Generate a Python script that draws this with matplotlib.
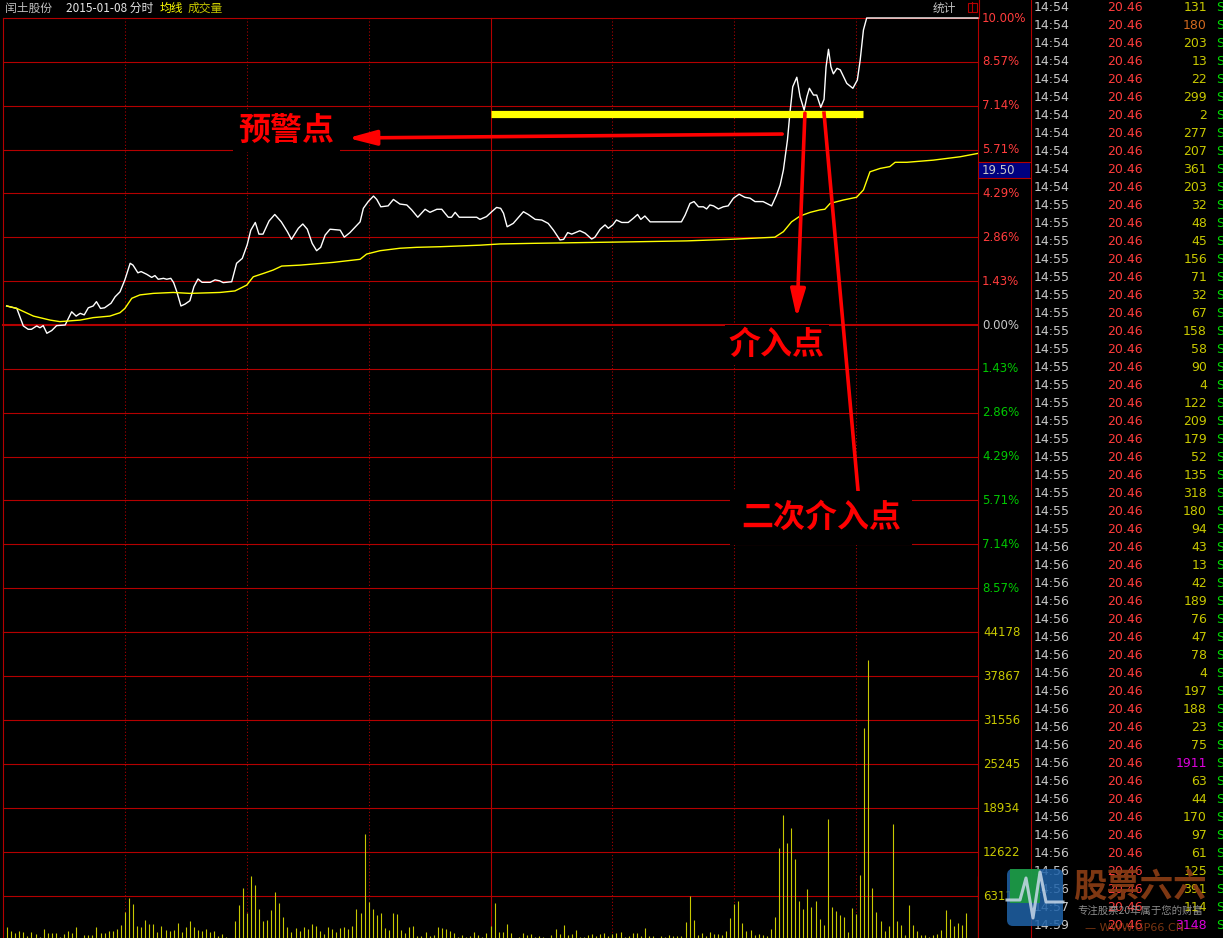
import matplotlib
matplotlib.use("Agg")
import matplotlib.pyplot as plt
from matplotlib.transforms import blended_transform_factory, Affine2D
from matplotlib.patches import Rectangle, FancyBboxPatch
from matplotlib.lines import Line2D

plt.rcParams['font.family'] = ['Noto Sans CJK SC', 'DejaVu Sans']

# ---- dane ----
stock_name = '闰土股份'
trade_date = '2015-01-08'
last_price_tag = '19.50'

# cena (minuta, % zmiany)
price_pts = [
    (0.9, 0.62), (3.4, 0.54), (5.0, -0.03), (6.2, -0.14), (7.0, -0.14), (8.3, -0.03),
    (9.1, -0.09), (9.9, -0.02), (10.8, -0.27), (12.0, -0.18), (13.2, -0.02), (15.3, 0.00),
    (16.9, 0.43), (18.0, 0.29), (19.0, 0.38), (20.0, 0.33), (21.0, 0.56), (22.2, 0.62),
    (23.0, 0.76), (24.0, 0.54), (25.0, 0.56), (26.6, 0.71), (27.6, 0.92), (28.8, 1.08),
    (30.0, 1.47), (31.3, 2.01), (32.0, 1.95), (33.2, 1.70), (34.0, 1.74), (35.4, 1.65),
    (36.6, 1.55), (37.4, 1.61), (38.2, 1.49), (39.5, 1.52), (40.3, 1.49), (41.3, 1.52),
    (42.0, 1.38), (42.8, 1.08), (43.8, 0.62), (44.8, 0.68), (46.0, 0.79), (47.0, 1.25),
    (48.0, 1.50), (49.0, 1.39), (51.0, 1.39), (52.2, 1.47), (53.3, 1.44), (54.2, 1.38),
    (56.3, 1.41), (57.5, 2.01), (58.9, 2.17), (60.1, 2.61), (61.0, 3.09), (62.1, 3.34),
    (63.0, 2.96), (64.0, 2.96), (65.5, 3.39), (66.9, 3.60), (68.5, 3.36), (70.0, 3.04),
    (71.0, 2.79), (72.7, 3.15), (73.8, 3.29), (74.9, 3.12), (76.1, 2.66), (77.2, 2.42),
    (78.2, 2.53), (79.3, 2.93), (80.5, 3.12), (83.0, 3.09), (84.0, 2.86), (85.4, 3.01),
    (87.9, 3.36), (88.7, 3.80), (89.9, 4.02), (91.2, 4.20), (92.0, 4.09), (93.0, 3.85),
    (94.8, 3.88), (96.1, 4.09), (97.7, 3.94), (99.4, 3.91), (100.6, 3.75), (102.1, 3.51),
    (103.9, 3.77), (105.1, 3.67), (106.8, 3.77), (108.0, 3.77), (109.6, 3.51), (110.4, 3.51),
    (111.3, 3.67), (112.3, 3.51), (116.6, 3.51), (117.4, 3.44), (119.0, 3.53), (120.3, 3.69),
    (121.5, 3.83), (122.5, 3.80), (123.2, 3.64), (124.1, 3.20), (125.6, 3.31), (128.1, 3.69),
    (129.3, 3.60), (131.0, 3.44), (132.6, 3.42), (134.2, 3.31), (135.5, 3.09), (137.1, 2.77),
    (138.0, 2.79), (139.0, 3.01), (140.0, 2.96), (142.0, 3.07), (143.3, 2.99), (144.9, 2.80),
    (145.7, 2.86), (147.0, 3.12), (148.2, 3.26), (149.0, 3.15), (150.1, 3.26), (151.0, 3.42),
    (152.3, 3.34), (153.9, 3.34), (155.2, 3.48), (156.2, 3.60), (157.0, 3.44), (158.0, 3.55),
    (159.3, 3.36), (161.7, 3.36), (167.0, 3.36), (167.9, 3.58), (169.1, 3.96), (170.1, 4.02),
    (171.2, 3.85), (172.4, 3.85), (173.2, 3.78), (174.0, 3.91), (174.9, 3.88), (176.1, 3.78),
    (177.3, 3.85), (178.5, 3.88), (179.8, 4.13), (181.2, 4.26), (182.6, 4.16), (183.9, 4.13),
    (185.1, 4.02), (187.1, 4.02), (189.2, 3.88), (190.4, 4.23), (191.3, 4.56), (192.1, 5.05),
    (193.1, 6.03), (193.7, 6.90), (194.4, 7.76), (195.4, 8.07), (196.2, 7.44), (197.2, 7.00),
    (197.9, 7.44), (198.5, 7.71), (199.5, 7.49), (200.3, 7.49), (201.3, 7.09), (202.1, 7.35),
    (202.6, 8.41), (203.2, 8.98), (203.8, 8.41), (204.4, 8.18), (205.3, 8.36), (206.1, 8.31),
    (207.7, 7.87), (209.2, 7.71), (210.3, 7.98), (211.0, 8.63), (211.8, 9.61), (212.6, 10.0),
    (240.0, 10.0),
]

# srednia (minuta, %)
avg_pts = [
    (0.9, 0.62), (3.4, 0.54), (7.5, 0.29), (11.6, 0.16), (14.0, 0.11), (19.0, 0.16),
    (22.2, 0.24), (26.3, 0.29), (28.8, 0.40), (30.0, 0.54), (31.7, 0.87), (33.7, 0.98),
    (37.0, 1.03), (41.9, 1.06), (46.0, 1.03), (53.4, 1.06), (57.1, 1.11), (60.0, 1.30),
    (61.6, 1.57), (64.1, 1.68), (66.5, 1.79), (68.6, 1.92), (73.1, 1.95), (81.3, 2.04),
    (87.9, 2.14), (89.5, 2.31), (92.8, 2.42), (97.7, 2.50), (101.8, 2.53), (107.6, 2.55),
    (117.4, 2.60), (122.3, 2.64), (130.5, 2.66), (155.2, 2.71), (168.3, 2.74), (178.9, 2.79),
    (190.0, 2.86), (192.1, 3.04), (194.1, 3.36), (196.2, 3.55), (198.7, 3.67), (201.1, 3.75),
    (202.3, 3.77), (203.6, 3.96), (206.8, 4.07), (210.1, 4.16), (211.8, 4.40), (213.4, 4.99),
    (215.9, 5.10), (218.3, 5.16), (219.6, 5.30), (222.5, 5.30), (229.0, 5.37), (235.6, 5.48),
    (240.0, 5.59),
]

# wolumen na minute (0..240)
volume = [
    0, 1860, 1290, 1000, 1290, 1150, 570, 1150, 860, 430,
    1580, 1000, 1000, 1000, 430, 860, 1290, 1000, 1860, 0,
    720, 720, 720, 1860, 1000, 1000, 1290, 1290, 1580, 2150,
    4020, 6020, 5160, 2010, 1860, 2870, 2290, 2290, 1150, 2010,
    1430, 1290, 1430, 2440, 1150, 1860, 2720, 1860, 1430, 1290,
    1580, 1150, 1290, 570, 860, 430, 0, 2720, 5020, 7460,
    3870, 9180, 7890, 4450, 2720, 2870, 4300, 6880, 5310, 3300,
    1860, 1150, 1720, 1290, 1860, 1580, 2290, 2010, 1290, 860,
    1860, 1580, 1150, 1720, 1860, 1580, 2010, 4450, 3870, 15200,
    5450, 4450, 3590, 3870, 1720, 1430, 3870, 3730, 1430, 1000,
    1860, 2010, 570, 570, 1150, 570, 720, 1860, 1720, 1580,
    1290, 1000, 430, 720, 430, 570, 1150, 720, 430, 1000,
    2010, 5310, 1150, 1150, 2290, 1000, 140, 430, 1000, 720,
    860, 430, 570, 430, 0, 720, 1580, 860, 2150, 720,
    860, 1430, 430, 430, 720, 860, 570, 860, 1000, 570,
    860, 1000, 1150, 430, 570, 1000, 1000, 570, 1720, 570,
    570, 0, 570, 430, 720, 570, 570, 570, 2580, 6310,
    2870, 720, 1000, 570, 1150, 860, 860, 720, 1290, 3150,
    5160, 5590, 2440, 1290, 1430, 720, 860, 720, 570, 1580,
    3300, 13190, 17930, 13910, 16060, 11620, 5590, 4450, 7310, 4730,
    5590, 3010, 2150, 17350, 4730, 4160, 3590, 3300, 1150, 4590,
    3730, 9320, 30400, 40150, 7460, 4020, 2720, 1290, 2010, 16630,
    2720, 2150, 720, 5020, 2150, 1290, 720, 720, 430, 720,
    860, 1430, 4300, 3010, 2010, 2440, 2150, 3870, 0, 0,
    9180,
]

pct_levels = [10.0, 8.57, 7.14, 5.71, 4.29, 2.86, 1.43, 0.0, -1.43, -2.86, -4.29, -5.71, -7.14, -8.57]
pct_labels = ['10.00%', '8.57%', '7.14%', '5.71%', '4.29%', '2.86%', '1.43%', '0.00%',
              '1.43%', '2.86%', '4.29%', '5.71%', '7.14%', '8.57%']
vol_step = 6311.14
vol_labels = ['44178', '37867', '31556', '25245', '18934', '12622', '6311']

# tabela transakcji
tick_time = ['14:54'] * 11 + ['14:55'] * 19 + ['14:56'] * 20 + ['14:57', '14:59']
tick_price = ['20.46'] * 52
tick_vol = [131, 180, 203, 13, 22, 299, 2, 277, 207, 361, 203,
            32, 48, 45, 156, 71, 32, 67, 158, 58, 90, 4, 122, 209, 179, 52, 135, 318, 180, 94,
            43, 13, 42, 189, 76, 47, 78, 4, 197, 188, 23, 75, 1911, 63, 44, 170, 97, 61, 125, 391,
            114, 3148]

RED = '#b40000'
W, H = 1223, 938

def fx(x):
    return x / W

def fy(y):
    return 1 - y / H

fig = plt.figure(figsize=(W / 100, H / 100), dpi=100, facecolor='black')
px = Affine2D().scale(1, -1).translate(0, H)  # piksele obrazka

ax_p = fig.add_axes([fx(3), fy(632), 975 / W, 614 / H])
ax_v = fig.add_axes([fx(3), fy(940), 975 / W, 308 / H])
for ax in (ax_p, ax_v):
    ax.set_facecolor('black')
    ax.set_xlim(0, 240)
    for s in ax.spines.values():
        s.set_visible(False)
    ax.set_xticks([])
    ax.set_yticks([])
    for m in (0, 120, 240):
        ax.axvline(m, color=RED, lw=0.8, zorder=1, clip_on=False)
    for m in (30, 60, 90, 150, 180, 210):
        ax.axvline(m, color=RED, lw=0.75, ls=(0, (1, 2.2)), zorder=1)
ax_p.set_ylim(-10, 10)
ax_v.set_ylim(0, 7 * vol_step)

# siatka pozioma
for v in pct_levels + [-10.0]:
    ax_p.axhline(v, color=RED, lw=1.5 if v == 0 else 0.8, zorder=1, clip_on=False)
for k in range(1, 8):
    ax_v.axhline(k * vol_step, color=RED, lw=0.8, zorder=1, clip_on=False)

# linie ramki poza osiami
fig.add_artist(Line2D([fx(978.5)] * 2, [fy(18), 1], color=RED, lw=0.8, transform=fig.transFigure))
fig.add_artist(Line2D([fx(1030.5)] * 2, [0, 1], color=RED, lw=0.8, transform=fig.transFigure))

# etykiety osi
tr_p = blended_transform_factory(ax_p.transAxes, ax_p.transData)
tr_v = blended_transform_factory(ax_v.transAxes, ax_v.transData)
lab_x = (982 - 3) / 975
for v, lab in zip(pct_levels, pct_labels):
    col = '#ff3c3c' if v > 0 else ('#c8c8c8' if v == 0 else '#00c800')
    ax_p.text(lab_x, v, lab, transform=tr_p, color=col, fontsize=8.5, va='center',
              ha='left', family='DejaVu Sans', clip_on=False)
for k, lab in zip(range(7, 0, -1), vol_labels):
    ax_v.text((983 - 3) / 975, k * vol_step, lab, transform=tr_v, color='#c8c800', fontsize=8.5,
              va='center', ha='left', family='DejaVu Sans', clip_on=False)

# linie ceny i sredniej
pt, pp = zip(*price_pts)
ax_p.plot(pt, pp, color='white', lw=1.0, zorder=3, clip_on=False)
at, ap = zip(*avg_pts)
ax_p.plot(at, ap, color='#ffff00', lw=1.0, zorder=3)

# wolumen
ax_v.vlines(range(len(volume)), 0, volume, color='#c8c800', lw=0.8, zorder=2)

# znacznik ceny
fig.add_artist(Rectangle((979, 162), 51, 16, transform=px, facecolor='#000080',
                         edgecolor='none', zorder=2))
for yy in (162, 178):
    fig.add_artist(Line2D([fx(978), fx(1030)], [fy(yy)] * 2, color=RED, lw=0.8,
                          transform=fig.transFigure))
fig.text(fx(982), fy(170), last_price_tag, color='#c8c8c8', fontsize=8.5, va='center',
         family='DejaVu Sans')

# adnotacje
ax_p.plot([120.1, 211.7], [6.87, 6.87], color='#ffff00', lw=5.2, solid_capstyle='butt', zorder=4)
arr = dict(arrowstyle='-|>,head_length=1.7,head_width=0.45', color='#ff0000', lw=2.6,
           mutation_scale=10, shrinkA=0, shrinkB=0)
ax_p.annotate('', xy=(84.9, 6.09), xytext=(191.8, 6.22), arrowprops=arr, zorder=5)
ax_p.annotate('', xy=(195.4, 0.23), xytext=(197.4, 6.90), arrowprops=arr, zorder=5)
ax_p.plot([202.1, 210.5], [6.90, -5.44], color='#ff0000', lw=2.6, zorder=5)

ann = dict(color='#ff0000', fontsize=23, fontweight='bold', ha='center', va='center', zorder=6)
ax_p.text(69.7, 6.32, '预警点', bbox=dict(facecolor='black', edgecolor='none', pad=4), **ann)
ax_p.text(190.5, -0.65, '介入点', bbox=dict(facecolor='black', edgecolor='none', pad=3), **ann)
ax_p.text(201.4, -6.29, '二次介入点', bbox=dict(facecolor='black', edgecolor='none', pad=8), **ann)

# naglowek
fig.text(fx(5), fy(8), stock_name, color='#c0c0c0', fontsize=8.5, va='center')
fig.text(fx(66), fy(8), trade_date + ' 分时', color='#e6e6e6', fontsize=8.5, va='center')
fig.text(fx(160), fy(8), '均线', color='#ffff00', fontsize=8.5, va='center')
fig.text(fx(188), fy(8), '成交量', color='#c8c800', fontsize=8.5, va='center')
fig.text(fx(933), fy(8), '统计', color='#c0c0c0', fontsize=8.5, va='center')
fig.add_artist(Rectangle((967.5, 2.5), 9, 9, transform=px, facecolor='none', edgecolor=RED, lw=0.8))
fig.add_artist(Line2D([fx(972), fx(972)], [fy(2.5), fy(11.5)], color=RED, lw=0.8,
                      transform=fig.transFigure))

# tabela transakcji
for i in range(len(tick_time)):
    y = fy(7.5 + 18 * i)
    fig.text(fx(1034), y, tick_time[i], color='#c8c8c8', fontsize=9, va='center', family='DejaVu Sans')
    fig.text(fx(1143), y, tick_price[i], color='#ff3c3c', fontsize=9, va='center', ha='right',
             family='DejaVu Sans')
    vc = '#dd00dd' if tick_vol[i] >= 1000 else '#c8c800'
    if i == 1:
        vc = '#d2691e'
    fig.text(fx(1207), y, str(tick_vol[i]), color=vc, fontsize=9, va='center', ha='right',
             family='DejaVu Sans')
    fig.text(fx(1216), y, 'S', color='#00dd00', fontsize=9, va='center', family='DejaVu Sans')

# znak wodny
fig.add_artist(FancyBboxPatch((1007, 869), 56, 57, boxstyle='round,pad=0,rounding_size=6',
                              transform=px, facecolor='#1f62a8', edgecolor='none', alpha=0.85, zorder=10))
fig.add_artist(Rectangle((1010, 869), 30, 34, transform=px, facecolor='#1c9a3c', edgecolor='none',
                         alpha=0.9, zorder=10))
wx = [1007, 1020, 1026, 1033, 1040, 1046, 1063]
wy = [900, 900, 878, 918, 872, 902, 902]
fig.add_artist(Line2D([fx(v) for v in wx], [fy(v) for v in wy], color='#c8d8e8', lw=2.2,
                      alpha=0.85, transform=fig.transFigure, zorder=11))
fig.text(fx(1140), fy(887), '股票六六', color='#8a3c14', fontsize=24, fontweight='bold',
         ha='center', va='center', alpha=0.92, zorder=11)
fig.text(fx(1140), fy(911), '专注股票20年属于您的财富', color='#9a9a9a', fontsize=7.5,
         ha='center', va='center', alpha=0.9, zorder=11)
fig.text(fx(1142), fy(928), '— WWW.GP66.CN —', color='#8a3c14', fontsize=8,
         ha='center', va='center', alpha=0.9, zorder=11, family='DejaVu Sans')

fig.savefig('out.png', dpi=100, facecolor='black')
